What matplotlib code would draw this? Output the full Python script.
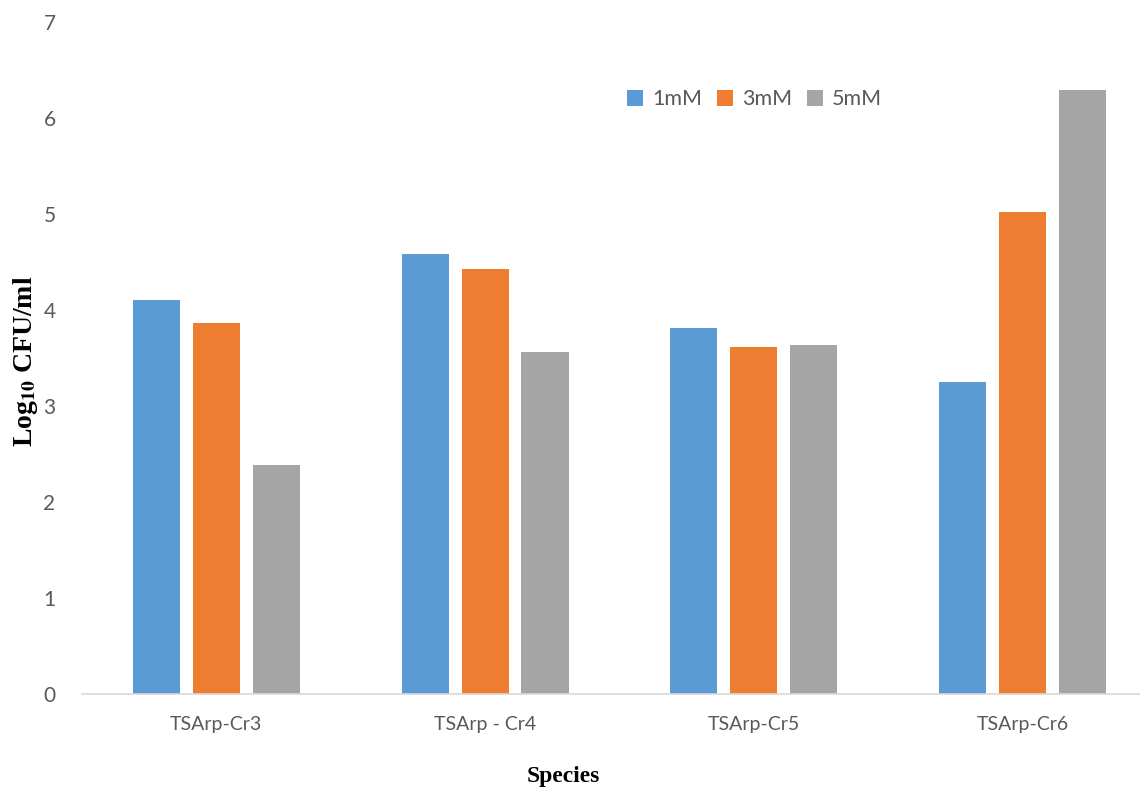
import numpy as np
import matplotlib
matplotlib.use("Agg")
import matplotlib.pyplot as plt

# Log10 CFU/ml for each isolate at three concentrations
species = ["TSArp-Cr3", "TSArp - Cr4", "TSArp-Cr5", "TSArp-Cr6"]
conc_1mM = [4.10, 4.58, 3.81, 3.25]
conc_3mM = [3.86, 4.43, 3.61, 5.02]
conc_5mM = [2.39, 3.56, 3.64, 6.29]
series_labels = ["1mM", "3mM", "5mM"]
colors = ["#5B9BD5", "#ED7D31", "#A5A5A5"]

fig = plt.figure(figsize=(11.4, 7.9), dpi=100)
ax = fig.add_axes([0.0719, 0.1215, 0.9281, 0.8506])

x = np.arange(len(species))
step = 0.223
width = 0.175
for i, (vals, lab, col) in enumerate(zip([conc_1mM, conc_3mM, conc_5mM], series_labels, colors)):
    ax.bar(x + (i - 1) * step, vals, width=width, color=col, label=lab, zorder=2)

ax.set_xlim(-0.5, 3.437)
ax.set_ylim(0, 7)
ax.set_yticks(range(0, 8))
ax.set_xticks(x)
ax.set_xticklabels(species)

for s in ["top", "right", "left"]:
    ax.spines[s].set_visible(False)
ax.spines["bottom"].set_color("#D9D9D9")
ax.spines["bottom"].set_linewidth(1.2)
ax.tick_params(axis="both", length=0)
ax.tick_params(axis="y", pad=19, labelsize=15, labelcolor="#595959")
ax.tick_params(axis="x", pad=16, labelsize=14, labelcolor="#595959")
for t in ax.get_xticklabels() + ax.get_yticklabels():
    t.set_fontfamily("Lato")

fig.text(0.022, 0.543, r"Log$_{\mathbf{10}}$ CFU/ml", rotation=90, ha="center", va="center",
         fontsize=20, fontweight="bold", family="Liberation Serif",
         math_fontfamily="stix")
fig.text(0.494, 0.017, "Species", ha="center", va="center",
         fontsize=17, fontweight="bold", family="Liberation Serif")

leg = ax.legend(loc="center", bbox_to_anchor=(0.662, 0.8745),
                bbox_transform=fig.transFigure, ncol=3, frameon=False,
                handlelength=0.75, handleheight=0.75, handletextpad=0.4,
                columnspacing=0.7, prop={"family": "Lato", "size": 15.5})
for t in leg.get_texts():
    t.set_color("#595959")

fig.savefig("out.png", dpi=100)
